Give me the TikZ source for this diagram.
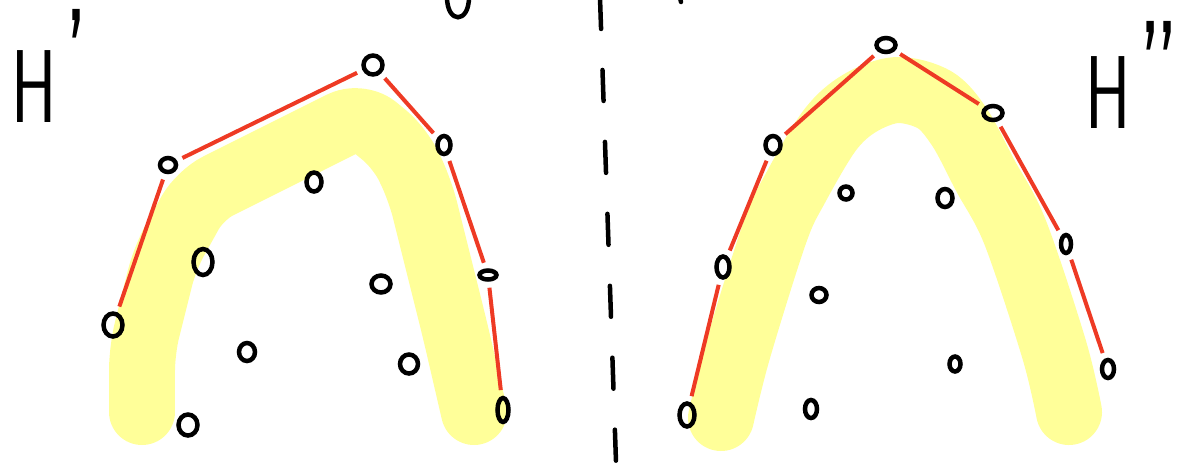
\documentclass[tikz,border=0pt]{standalone}
\usepackage{tikz}
\usetikzlibrary{shapes.geometric}
\definecolor{hullred}{RGB}{238,58,36}
\definecolor{hiyellow}{RGB}{255,255,153}

\begin{document}
\begin{tikzpicture}[
        x=0.02cm, y=-0.02cm,
        pt/.style 2 args={ellipse, draw, line width=0.09cm, inner sep=0pt, minimum width=#1cm, minimum height=#2cm},
        hull/.style={draw=hullred, line width=0.08cm, shorten <=0.12cm, shorten >=0.12cm},
        band/.style={draw=hiyellow, line width=1.32cm, line cap=round, line join=round},
        setname/.style={font=\sffamily\fontsize{59}{59}\selectfont, inner sep=0pt, anchor=base west, xscale=0.66, transform shape},
        stroke/.style={line width=0.09cm, line cap=round}
        ]
        \useasboundingbox (0,0) rectangle (1193,464);

        % highlighted upper hulls
        \draw[band, rounded corners=0.4cm] (142,412) -- (142,350) -- (165,258) -- (200,195) -- (360,115) -- (400,148) -- (420,190) -- (455,330) -- (474,412);
        \draw[band] plot[smooth, tension=0.55] coordinates {(721,418) (738,350) (775,232) (796,187) (830,130) (860,103) (897,90) (935,100) (960,128) (985,175) (1015,232) (1054,349) (1069,412)};

        % separating line and cut-off strokes at the top
        \draw[stroke, dash pattern=on 0.62cm off 0.82cm] (600,-2) -- (616,462);
        \draw[stroke] (447,-3) .. controls (447,24) and (469,24) .. (469,-3);
        \draw[stroke] (680,-2) -- (681,2);

        % names of the sets
        \node[setname] (hA) at (11,122) {H\kern0.12em\raisebox{0.15em}{\scalebox{1.35}{’}}};
        \node[setname] (hB) at (1085,128) {H\kern0.12em\raisebox{0.09em}{\scalebox{1.35}{”}}};

        % points of H'
        \node[pt={0.38}{0.46}] (a1) at (113,325) {};
        \node[pt={0.32}{0.28}] (a2) at (168,165) {};
        \node[pt={0.38}{0.38}] (a3) at (373,65) {};
        \node[pt={0.26}{0.36}] (a4) at (444,145) {};
        \node[pt={0.34}{0.18}] (a5) at (488,275) {};
        \node[pt={0.22}{0.48}] (a6) at (503,410) {};
        \node[pt={0.38}{0.52}] (b1) at (203,262) {};
        \node[pt={0.30}{0.38}] (b2) at (314,182) {};
        \node[pt={0.38}{0.34}] (b3) at (381,284) {};
        \node[pt={0.32}{0.36}] (b4) at (247,352) {};
        \node[pt={0.36}{0.38}] (b5) at (409,364) {};
        \node[pt={0.38}{0.42}] (b6) at (188,425) {};

        % points of H''
        \node[pt={0.30}{0.46}] (c1) at (687,415) {};
        \node[pt={0.26}{0.42}] (c2) at (723,267) {};
        \node[pt={0.30}{0.36}] (c3) at (773,145) {};
        \node[pt={0.38}{0.28}] (c4) at (886,45) {};
        \node[pt={0.38}{0.28}] (c5) at (993,113) {};
        \node[pt={0.20}{0.36}] (c6) at (1066,244) {};
        \node[pt={0.24}{0.36}] (c7) at (1108,369) {};
        \node[pt={0.26}{0.26}] (d1) at (846,193) {};
        \node[pt={0.30}{0.36}] (d2) at (945,198) {};
        \node[pt={0.30}{0.28}] (d3) at (819,295) {};
        \node[pt={0.24}{0.36}] (d4) at (811,409) {};
        \node[pt={0.22}{0.30}] (d5) at (955,364) {};

        % hull edges
        \draw[hull] (a1) -- (a2);
        \draw[hull] (a2) -- (a3);
        \draw[hull] (a3) -- (a4);
        \draw[hull] (a4) -- (a5);
        \draw[hull] (a5) -- (a6);
        \draw[hull] (c1) -- (c2);
        \draw[hull] (c2) -- (c3);
        \draw[hull] (c3) -- (c4);
        \draw[hull] (c4) -- (c5);
        \draw[hull] (c5) -- (c6);
        \draw[hull] (c6) -- (c7);
    \end{tikzpicture}
\end{document}
